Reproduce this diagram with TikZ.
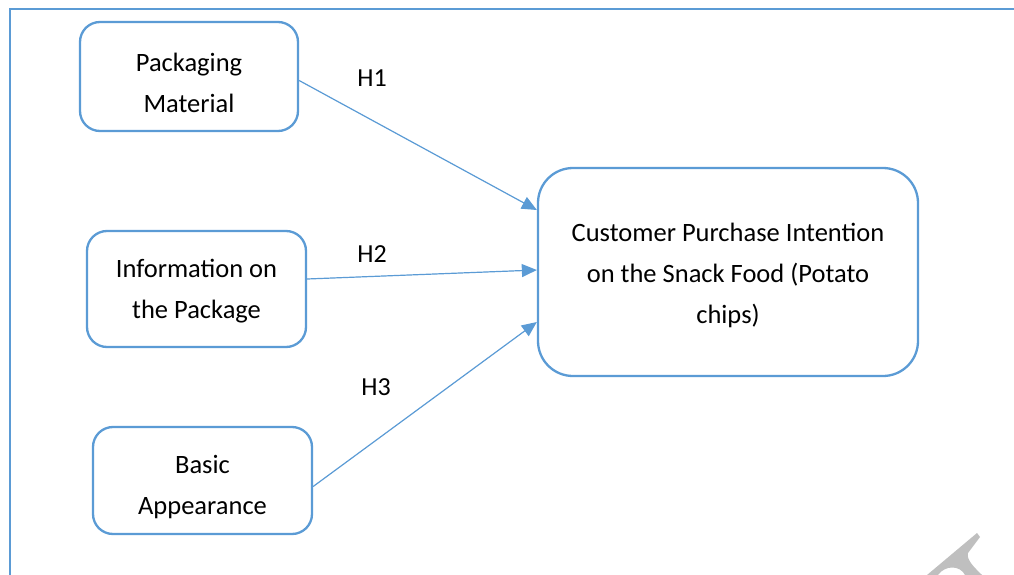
\documentclass[tikz,border=0pt]{standalone}
\usepackage{fontspec}
\setmainfont{Carlito}
\usetikzlibrary{arrows.meta, positioning}
\usepackage{xcolor}
\definecolor{wordblue}{RGB}{91,155,213}
\tikzset{
	x=1pt, y=-1pt,
	>={Triangle[length=15pt,width=13pt]},
	factor/.style={draw=wordblue, line width=2.3pt, rounded corners=20pt, inner sep=0pt},
	boxtext/.style={align=center, font=\fontsize{26.5}{41}\selectfont, inner sep=0pt},
	hypo/.style={->, draw=wordblue, fill=wordblue, line width=1.2pt},
	hlabel/.style={font=\fontsize{26}{30}\selectfont}}

\begin{document}
\begin{tikzpicture}
		\useasboundingbox (0,0) rectangle (1014,575);
		% frame
		\draw[wordblue, line width=2pt] (10,575) -- (10,9) -- (1014,9);
		
		\node[factor, minimum width=218pt, minimum height=109pt,
			label={[boxtext, yshift=-6.5pt]center:{Packaging\\Material}}] (pm) at (189,76.5) {};
		\node[factor, minimum width=219pt, minimum height=116pt,
			label={[boxtext, yshift=-2.5pt]center:{Information on\\the Package}}] (info) at (196.5,289) {};
		\node[factor, minimum width=219pt, minimum height=107pt,
			label={[boxtext, yshift=-7pt]center:{Basic\\Appearance}}] (basic) at (202.5,480.5) {};
		\node[factor, minimum width=380pt, minimum height=208pt, rounded corners=35pt,
			label={[boxtext, yshift=-3pt]center:{Customer Purchase Intention\\on the Snack Food (Potato\\chips)}}] (cpi) at (728,272) {};
		
		\node[hlabel] (h1) at (372,78) {H1};
		\node[hlabel] (h2) at (372,254) {H2};
		\node[hlabel] (h3) at (376,387) {H3};
		
		\draw[hypo] ([yshift=-4pt]pm.east) -- ([yshift=62pt]cpi.west);
		\draw[hypo] ([yshift=10pt]info.east) -- ([yshift=2pt]cpi.west);
		\draw[hypo] ([yshift=-6pt]basic.east) -- ([yshift=-50pt]cpi.west);
		
		% watermark fragment
		\fill[black!25] (927,575) -- (977,533) -- (980,537) -- (968,553)
			.. controls (966,560) and (975,568) .. (982,575) -- (965,575)
			.. controls (960,565) and (945,565) .. (938,575) -- cycle;
	\end{tikzpicture}
\end{document}
